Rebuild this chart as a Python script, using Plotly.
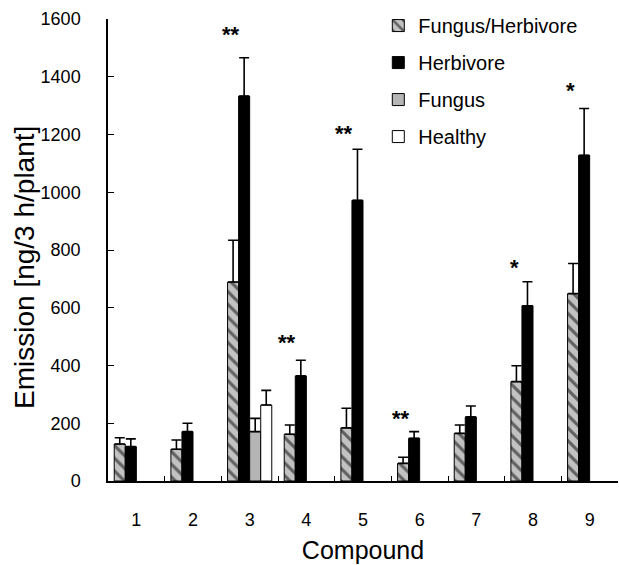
import plotly.graph_objects as go

compounds = ['1', '2', '3', '4', '5', '6', '7', '8', '9']

fungus_herbivore = [128, 110, 689, 162, 184, 61, 165, 344, 649]
fungus_herbivore_err = [22, 32, 145, 32, 68, 21, 29, 55, 104]

herbivore = [119, 171, 1333, 364, 972, 148, 222, 607, 1128]
herbivore_err = [27, 29, 133, 54, 177, 23, 38, 83, 162]

fungus = [None, None, 171, None, None, None, None, None, None]
fungus_err = [None, None, 46, None, None, None, None, None, None]

healthy = [None, None, 263, None, None, None, None, None, None]
healthy_err = [None, None, 51, None, None, None, None, None, None]

star_labels = ['', '', '**', '**', '**', '**', '', '*', '*']
star_y = [None, None, 1547, 478, 1204, 218, None, 740, 1353]

ERR = dict(type='data', symmetric=False, color='black', thickness=1.6, width=5)
LINE = dict(color='black', width=1)

fig = go.Figure()
fig.add_trace(go.Bar(
    name='Fungus/Herbivore', x=compounds, y=fungus_herbivore, legendgroup='a',
    marker=dict(color='#c2c2c2', line=LINE,
                pattern=dict(shape='\\', fgcolor='black', size=9, solidity=0.35)),
    error_y=dict(array=fungus_herbivore_err, **ERR)))
fig.add_trace(go.Bar(
    name='Herbivore', x=compounds, y=herbivore, legendgroup='b',
    marker=dict(color='black', line=LINE),
    error_y=dict(array=herbivore_err, **ERR)))
fig.add_trace(go.Bar(
    name='Fungus', x=compounds, y=fungus, legendgroup='c',
    marker=dict(color='#b5b5b5', line=LINE),
    error_y=dict(array=fungus_err, **ERR)))
fig.add_trace(go.Bar(
    name='Healthy', x=compounds, y=healthy, legendgroup='d',
    marker=dict(color='white', line=LINE),
    error_y=dict(array=healthy_err, **ERR)))

for i, (lab, yv) in enumerate(zip(star_labels, star_y)):
    if lab:
        fig.add_annotation(x=i, y=yv, text='<b>' + lab + '</b>', showarrow=False, xshift=-19,
                           font=dict(size=22, color='black'), yanchor='middle')

# y-axis title as a rotated annotation (placed slightly below the plot centre as in the reference)
fig.add_annotation(xref='paper', yref='paper', x=-0.165, y=0.463,
                   text='Emission [ng/3 h/plant]', textangle=-90, showarrow=False,
                   font=dict(size=28, color='black'), xanchor='center', yanchor='middle')

fig.update_layout(
    width=619, height=565,
    margin=dict(l=108, r=1, t=19, b=84),
    paper_bgcolor='white', plot_bgcolor='white',
    barmode='group', bargap=0.22, bargroupgap=0,
    font=dict(family='Liberation Sans, Arial, sans-serif', color='black'),
    showlegend=True,
    legend=dict(x=0.53, y=1.028, xanchor='left', yanchor='top',
                font=dict(size=20), tracegroupgap=8, bgcolor='rgba(0,0,0,0)',
                traceorder='grouped'),
    xaxis=dict(
        type='category',
        showline=True, linecolor='black', linewidth=1.5,
        ticks='inside', tickson='boundaries', ticklen=5, tickcolor='black',
        tickfont=dict(size=18), ticklabelstandoff=22,
        title=dict(text='Compound', font=dict(size=25), standoff=12),
        showgrid=False, zeroline=False),
    yaxis=dict(
        range=[0, 1600], tickvals=[0, 200, 400, 600, 800, 1000, 1200, 1400, 1600],
        showline=True, linecolor='black', linewidth=1.5,
        ticks='inside', ticklen=6, tickcolor='black',
        tickfont=dict(size=18), ticklabelstandoff=22,
        showgrid=False, zeroline=False),
)

fig.write_html('out.html', config={'displayModeBar': False},
               post_script="document.body.style.margin='0';")
